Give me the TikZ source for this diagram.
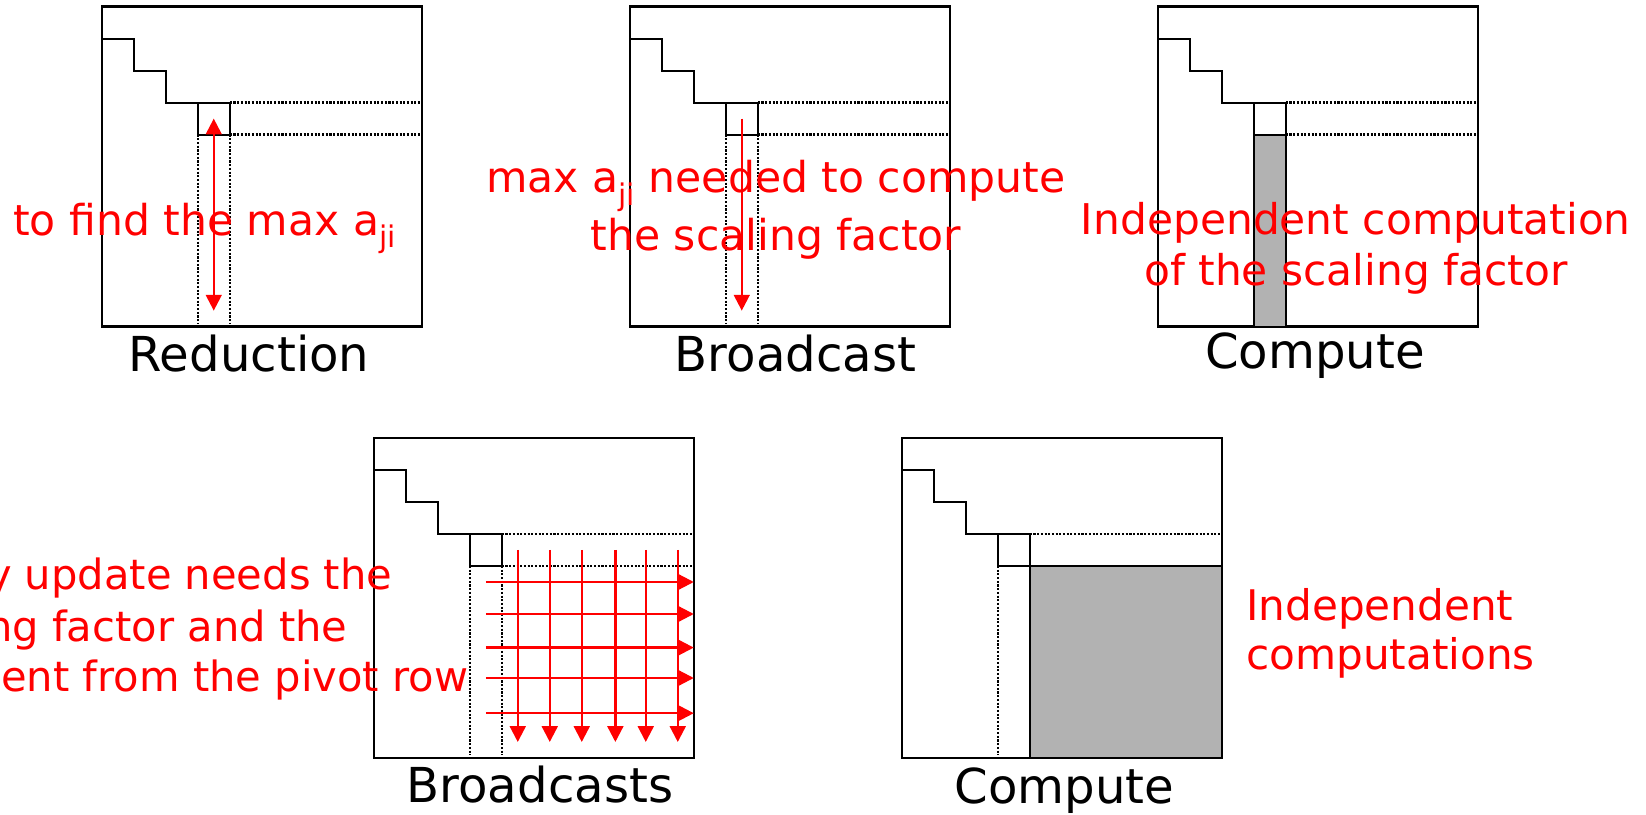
\documentclass[tikz,border=0pt]{standalone}
\usepackage{fontspec}
\setmainfont{DejaVu Sans}
\usepackage{graphicx}
\usetikzlibrary{arrows.meta}
\tikzset{
  matbox/.style={draw, line width=1.3pt},
  stair/.style={draw, line width=1.1pt},
  dotline/.style={line width=1.4pt, dash pattern=on 1.2pt off 0.9pt},
  flowarrow/.style={red, line width=1.3pt, -{Triangle[length=9pt, width=9pt]}},
  botharrow/.style={red, line width=1.3pt, {Triangle[length=9pt, width=9pt]}-{Triangle[length=9pt, width=9pt]}},
  busy/.style={draw, line width=1.2pt, fill=black!30},
  caption/.style={font=\fontsize{27.4pt}{32pt}\selectfont, inner sep=0pt, anchor=base},
  note/.style={text=red, inner sep=0pt}
}
% matrix outline, staircase, pivot cell and its row/column
\newcommand{\matframe}{%
  \draw[matbox] (0,0) rectangle (10,10);
  \draw[stair] (0,9) -| (1,8) -| (2,7) -- (4,7) -- (4,6) -- (3,6) -- (3,7);
  \draw[dotline] (4,7) -- (9.95,7) (4,6) -- (9.95,6) (3,6) -- (3,0.1) (4,6) -- (4,0.1);
}
\newcommand{\lowidx}[1]{\raisebox{-0.3em}{\scalebox{0.7}{#1}}}

\begin{document}
\begin{tikzpicture}[x=0.64cm, y=0.64cm]
  \useasboundingbox (0,0) rectangle (51.4375,25.4375);

  % reduction
  \begin{scope}[shift={(3.18,15.23)}]
    \matframe
    \draw[botharrow] (3.5,6.5) -- (3.5,0.5);
    \node[note, anchor=base west, font=\fontsize{24.2pt}{28.7pt}\selectfont] (findmax) at (-2.78,2.86) {to find the max a\lowidx{ji}};
    \node[caption] (reduction) at (4.6,-1.39) {Reduction};
  \end{scope}

  % broadcast of the max
  \begin{scope}[shift={(19.68,15.23)}]
    \matframe
    \draw[flowarrow] (3.5,6.5) -- (3.5,0.5);
    \node[note, anchor=base, align=center, font=\fontsize{24.2pt}{32.9pt}\selectfont] (needmax) at (4.57,2.37) {max a\lowidx{ji} needed to compute\\the scaling factor};
    \node[caption] (broadcast) at (5.18,-1.39) {Broadcast};
  \end{scope}

  % scaling factor
  \begin{scope}[shift={(36.18,15.23)}]
    \matframe
    \draw[busy] (3,0) rectangle (4,6);
    \node[note, anchor=base, align=center, font=\fontsize{24.1pt}{28.7pt}\selectfont] (scaling) at (6.19,1.30) {Independent computation\\of the scaling factor};
    \node[caption] (compute) at (4.91,-1.3) {Compute};
  \end{scope}

  % broadcasts for the update
  \begin{scope}[shift={(11.68,1.75)}]
    \matframe
    \foreach \x in {4.5,5.5,6.5,7.55,8.5,9.5}
      \draw[flowarrow] (\x,6.5) -- (\x,0.5);
    \foreach \y in {5.5,4.5,3.45,2.5,1.4}
      \draw[flowarrow] (3.5,\y) -- (10,\y);
    \node[note, anchor=base east, font=\fontsize{23.7pt}{28.7pt}\selectfont] (upda) at (0.59,5.25) {y update needs the};
    \node[note, anchor=base east, font=\fontsize{23.7pt}{28.7pt}\selectfont] (updb) at (-0.81,3.65) {ng factor and the};
    \node[note, anchor=base east, font=\fontsize{23.7pt}{28.7pt}\selectfont] (updc) at (2.96,2.07) {ent from the pivot row};
    \node[caption] (broadcasts) at (5.19,-1.4) {Broadcasts};
  \end{scope}

  % update
  \begin{scope}[shift={(28.18,1.75)}]
    \matframe
    \draw[busy] (4,0) rectangle (10,6);
    \node[note, anchor=base west, align=left, font=\fontsize{24pt}{27.95pt}\selectfont] (indep) at (10.75,2.77) {Independent\\computations};
    \node[caption] (update) at (5.08,-1.41) {Compute};
  \end{scope}
\end{tikzpicture}
\end{document}
